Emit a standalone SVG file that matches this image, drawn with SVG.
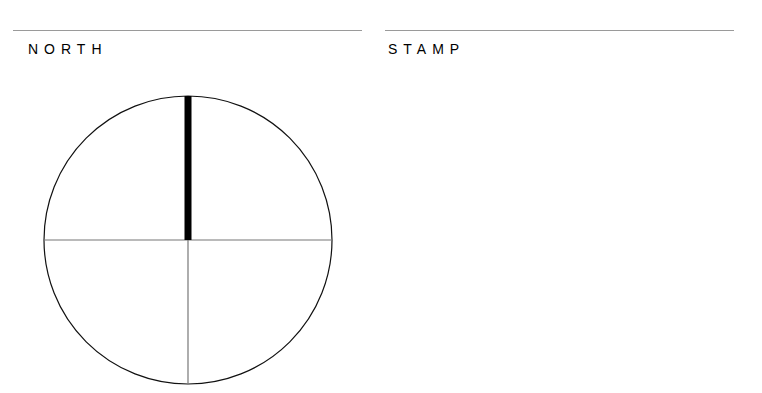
<svg xmlns="http://www.w3.org/2000/svg" width="762" height="393" viewBox="0 0 762 393">
<style>
.rule{stroke:#9a9a9a;stroke-width:1.2;fill:none}
.label{font-family:"Liberation Sans",Arial,sans-serif;font-size:14px;letter-spacing:6px;fill:#000}
.axis{stroke:#777;stroke-width:1.2;fill:none}
</style>
<rect width="762" height="393" fill="#fff"/>
<g id="north-header">
<line class="rule" x1="13" y1="30.5" x2="362" y2="30.5"/>
<text class="label" x="28" y="53.5">NORTH</text>
</g>
<g id="stamp-header">
<line class="rule" x1="385" y1="30.5" x2="734" y2="30.5"/>
<text class="label" x="388" y="53.5">STAMP</text>
</g>
<g id="compass">
<circle cx="188" cy="240" r="144" fill="none" stroke="#111" stroke-width="1.2"/>
<g id="connectors">
<line class="axis" x1="44" y1="240" x2="332" y2="240"/>
<line class="axis" x1="188" y1="240" x2="188" y2="384"/>
</g>
<rect id="north-needle" x="184.5" y="96" width="7" height="144" fill="#000"/>
</g>
</svg>
